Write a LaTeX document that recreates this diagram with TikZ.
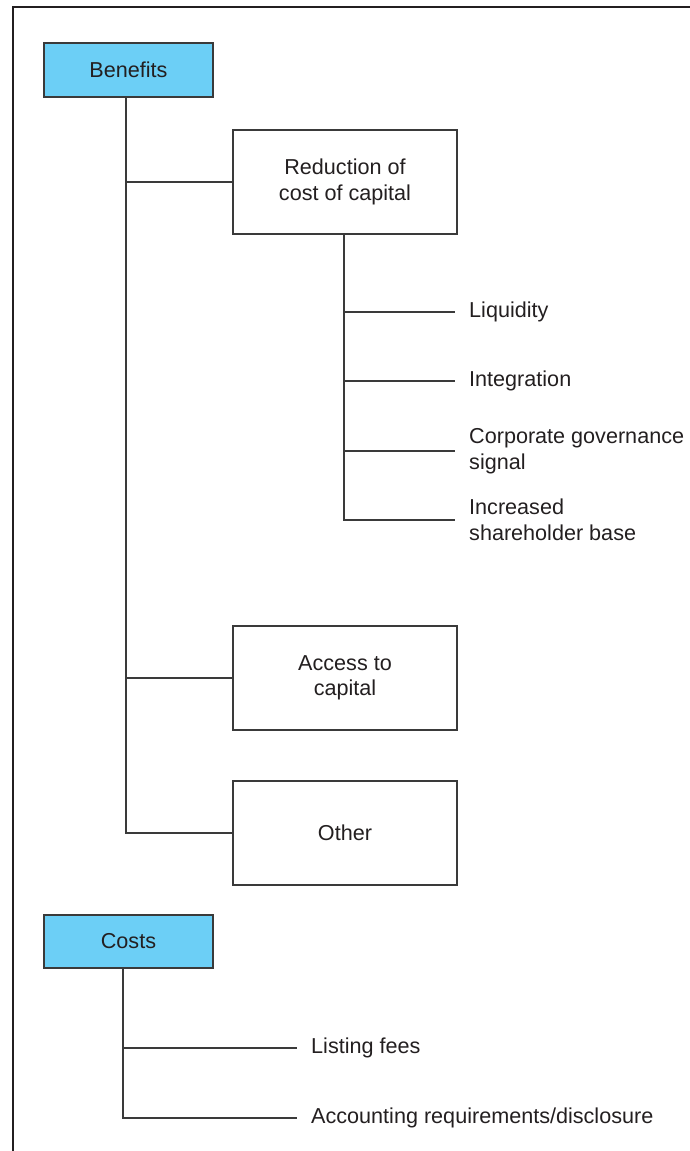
\documentclass[tikz,border=0pt]{standalone}
\usepackage{fontspec}
\setmainfont{Liberation Sans}
\definecolor{boxblue}{HTML}{6CCFF6}
\definecolor{ink}{HTML}{231F20}
\definecolor{linegray}{HTML}{3A3A3A}
\begin{document}
\begin{tikzpicture}[x=1pt,y=-1pt,
  font=\fontsize{21.6}{25.5}\selectfont,
  every node/.style={text=ink},
  headbox/.style={draw=linegray, line width=1.4pt, fill=boxblue, minimum width=169pt, minimum height=54pt, inner sep=0pt},
  itembox/.style={draw=linegray, line width=1.2pt, fill=white, minimum width=224pt, minimum height=104pt, align=center, inner sep=0pt},
  leaf/.style={anchor=west, align=left, inner xsep=14pt, inner ysep=0pt},
  conn/.style={draw=linegray, line width=1.1pt}]
\useasboundingbox (0,0) rectangle (689,1151);
\draw[line width=2.6pt, color=ink] (13,1151) -- (13,7) -- (690,7);

% Benefits
\node[headbox] (ben) at (128.5,70) {Benefits};
\node[itembox] (red) at (345,182) {Reduction of\\cost of capital};
\node[itembox] (acc) at (345,678) {Access to\\capital};
\node[itembox] (oth) at (345,833) {Other};

\node[leaf] (liq) at (455,312) {Liquidity};
\node[leaf] (int) at (455,381) {Integration};
\node[leaf] (cgs) at (455,451) {Corporate governance\\signal};
\node[leaf] (ish) at (455,520) {Increased\\shareholder base};

\coordinate (bt) at (126,97);
\draw[conn] (bt) -- (bt |- oth.west) -- (oth.west);
\draw[conn] (bt |- red.west) -- (red.west);
\draw[conn] (bt |- acc.west) -- (acc.west);

\coordinate (rt) at (344,234);
\draw[conn] (rt) -- (rt |- ish.west) -- (ish.west);
\draw[conn] (rt |- liq.west) -- (liq.west);
\draw[conn] (rt |- int.west) -- (int.west);
\draw[conn] (rt |- cgs.west) -- (cgs.west);

% Costs
\node[headbox, minimum height=53pt] (cos) at (128.5,941.5) {Costs};
\node[leaf] (lf) at (297,1048) {Listing fees};
\node[leaf] (ar) at (297,1118) {Accounting requirements/disclosure};

\coordinate (ct) at (123,968);
\draw[conn] (ct) -- (ct |- ar.west) -- (ar.west);
\draw[conn] (ct |- lf.west) -- (lf.west);
\end{tikzpicture}
\end{document}
